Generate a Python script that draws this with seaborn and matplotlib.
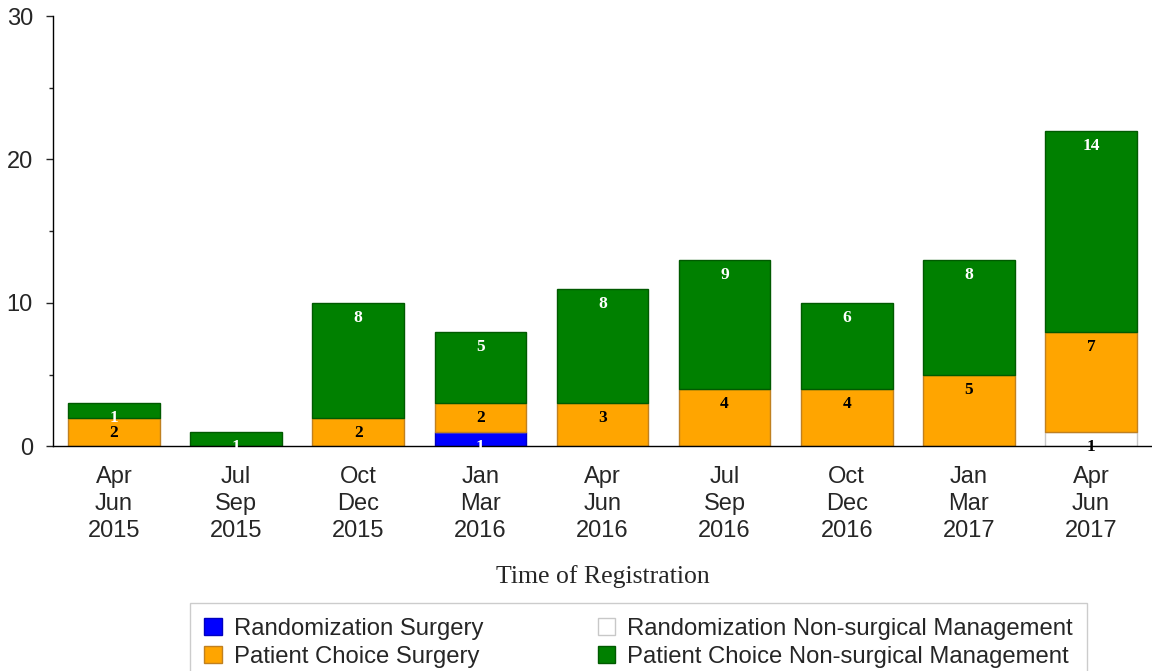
import matplotlib
matplotlib.use('Agg')
import numpy as np
import pandas as pd
import matplotlib.pyplot as plt
import seaborn as sns
from matplotlib.patches import Patch
from matplotlib.ticker import MultipleLocator

quarters = ["Apr\nJun\n2015", "Jul\nSep\n2015", "Oct\nDec\n2015", "Jan\nMar\n2016",
            "Apr\nJun\n2016", "Jul\nSep\n2016", "Oct\nDec\n2016", "Jan\nMar\n2017",
            "Apr\nJun\n2017"]

rand_surgery = [0, 0, 0, 1, 0, 0, 0, 0, 0]
rand_nonsurg = [0, 0, 0, 0, 0, 0, 0, 0, 1]
choice_surgery = [2, 0, 2, 2, 3, 4, 4, 5, 7]
choice_nonsurg = [1, 1, 8, 5, 8, 9, 6, 8, 14]

series = [
    ("Randomization Surgery", rand_surgery, "#0000ff", "#0000c0", "white"),
    ("Randomization Non-surgical Management", rand_nonsurg, "white", "#c8c8c8", "black"),
    ("Patient Choice Surgery", choice_surgery, "#ffa500", "#c08020", "black"),
    ("Patient Choice Non-surgical Management", choice_nonsurg, "#008000", "#005a00", "white"),
]

sns.set_style("ticks")
plt.rcParams['font.family'] = ['Liberation Sans', 'DejaVu Sans']

fig = plt.figure(figsize=(11.52, 6.71), dpi=100)
ax = fig.add_axes([0.046, 0.335, 0.954, 0.641])

bottom = np.zeros(len(quarters))
for name, vals, col, edge, tcol in series:
    df = pd.DataFrame({"quarter": quarters, "count": vals})
    sns.barplot(data=df, x="quarter", y="count", color=col, bottom=bottom,
                width=0.75, edgecolor=edge, linewidth=1, ax=ax, saturation=1)
    top = bottom + np.array(vals)
    for i, v in enumerate(vals):
        if v > 0:
            ax.annotate(str(v), (i, top[i]), xytext=(0, -11), textcoords="offset points",
                        ha="center", va="center", color=tcol, fontsize=12.5,
                        fontweight="bold", family="Liberation Serif")
    bottom = top

ax.set_xlim(-0.5, 8.5)
ax.set_ylim(0, 30)
ax.yaxis.set_major_locator(MultipleLocator(10))
ax.yaxis.set_minor_locator(MultipleLocator(5))
ax.tick_params(axis="y", which="major", length=5, labelsize=17, width=1, pad=9.5)
ax.tick_params(axis="y", which="minor", length=3, width=1)
ax.tick_params(axis="x", length=0, labelsize=17, pad=14)
for lbl in ax.get_xticklabels():
    lbl.set_linespacing(1.29)
ax.set_xlabel("Time of Registration", family="Liberation Serif", fontsize=18.5, labelpad=17)
ax.set_ylabel("")
sns.despine(ax=ax)
for s in ["left", "bottom"]:
    ax.spines[s].set_color("black")
    ax.spines[s].set_linewidth(1)

handles = [Patch(facecolor=series[i][2], edgecolor=series[i][3], label=series[i][0])
           for i in (0, 2, 1, 3)]
fig.legend(handles=handles, loc="upper left", bbox_to_anchor=(0.165, 0.101),
           ncol=2, fontsize=17.2, handlelength=0.72, handleheight=0.72,
           handletextpad=0.5, labelspacing=0.25, columnspacing=4.8, frameon=True,
           fancybox=False, edgecolor="#c0c0c0", borderaxespad=0, borderpad=0.6)

fig.savefig("out.png", dpi=100)
